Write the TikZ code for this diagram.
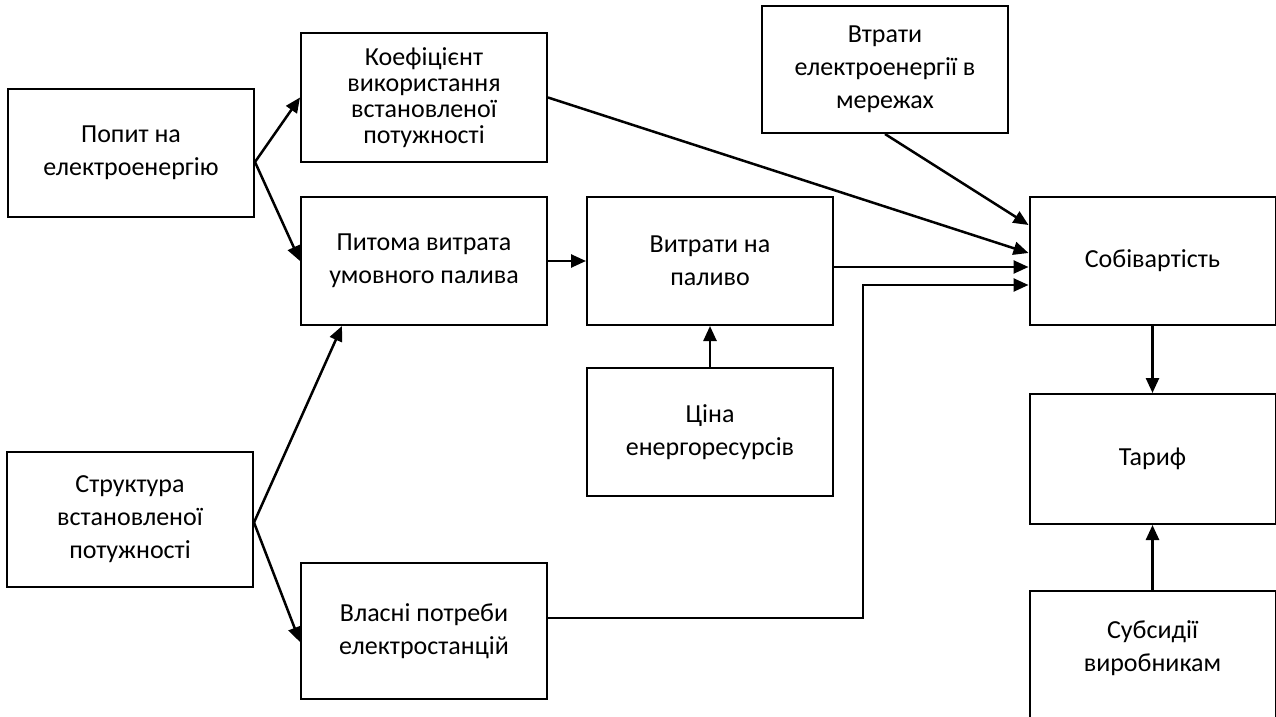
\documentclass[tikz,border=0pt]{standalone}
\usepackage{fontspec}
\setmainfont{Carlito}
\usetikzlibrary{arrows.meta}
\tikzset{
  box/.style={draw, line width=1pt, minimum width=123pt, minimum height=64pt,
    inner sep=2pt, align=center, font=\fontsize{13}{16.5}\selectfont},
  arr/.style={line width=1.25pt, -{Triangle[length=7.5pt,width=6.5pt]}}
}
\begin{document}
\begin{tikzpicture}[x=0.5pt,y=-0.5pt]
            \useasboundingbox (0,0) rectangle (1276,717);
            % boxes
            \node[box] (popit) at (131,153) {Попит на\\електроенергію};
            \node[box, minimum height=64.5pt, font=\fontsize{13}{13.1}\selectfont] (koef) at (424,97.5) {Коефіцієнт\\використання\\встановленої\\потужності};
            \node[box] (pytoma) at (424,261) {Питома витрата\\умовного палива};
            \node[box] (vytraty) at (710,261) {Витрати на\\паливо};
            \node[box, minimum height=63.5pt] (vtraty) at (885,69.5) {Втрати\\електроенергії в\\мережах};
            \node[box] (sobiv) at (1152.5,261) {Собівартість};
            \node[box, minimum height=65pt] (taryf) at (1152.5,459) {Тариф};
            \node[box, minimum height=68pt, label={[align=center, font=\fontsize{13}{16.5}\selectfont, yshift=5.5pt]center:Субсидії\\виробникам}] (subs) at (1152.5,659) {};
            \node[box, minimum height=67.5pt] (struktura) at (130,519.5) {Структура\\встановленої\\потужності};
            \node[box, minimum height=68pt] (vlasni) at (424,631) {Власні потреби\\електростанцій};
            \node[box] (tsina) at (710,432) {Ціна\\енергоресурсів};
            % arrows
            \draw[arr] ([yshift=-4.5pt]popit.east) -- (koef.west);
            \draw[arr] ([yshift=-4.5pt]popit.east) -- (pytoma.west);
            \draw[arr] ([yshift=-1.5pt]struktura.east) -- ([xshift=21pt]pytoma.south west);
            \draw[arr] ([yshift=-1.5pt]struktura.east) -- ([yshift=-5.5pt]vlasni.west);
            \draw[arr] (pytoma.east) -- (vytraty.west);
            \draw[arr] (tsina.north) -- (vytraty.south);
            \draw[arr] (vtraty.south) -- ([yshift=18pt]sobiv.west);
            \draw[arr] (koef.east) -- ([yshift=4pt]sobiv.west);
            \draw[arr] ([yshift=-3pt]vytraty.east) -- ([yshift=-3pt]sobiv.west);
            \draw[arr] ([yshift=6.5pt]vlasni.east) -- ++(157.5pt,0) |- ([yshift=-12pt]sobiv.west);
            \draw[arr] (sobiv.south) -- (taryf.north);
            \draw[arr] (subs.north) -- (taryf.south);
        \end{tikzpicture}
\end{document}
